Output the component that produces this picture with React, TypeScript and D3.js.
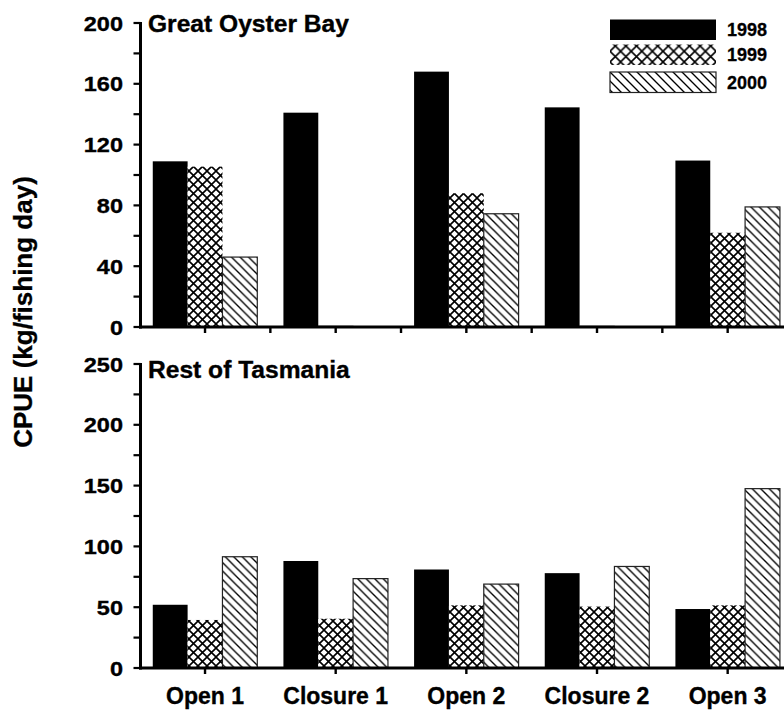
import React from "react";
import * as d3 from "d3";

const categories = ["Open 1", "Closure 1", "Open 2", "Closure 2", "Open 3"];
const years = ["1998", "1999", "2000"];

// Great Oyster Bay CPUE (kg/fishing day)
const gob1998 = [109, 141, 168, 144.5, 109.5];
const gob1999 = [105.5, 0.6, 88, 0.6, 62];
const gob2000 = [46, 0, 74.5, 0, 79];

// Rest of Tasmania CPUE (kg/fishing day)
const rot1998 = [52, 88, 81, 78, 48.5];
const rot1999 = [39.5, 40.5, 51.5, 50.5, 51.5];
const rot2000 = [91.5, 73.5, 69, 83.5, 147.5];

const topTicksMajor = [0, 40, 80, 120, 160, 200];
const topTicksMinor = [20, 60, 100, 140, 180];
const botTicksMajor = [0, 50, 100, 150, 200, 250];
const botTicksMinor = [25, 75, 125, 175, 225];

const W = 784;
const H = 711;
const FONT = "'Liberation Sans', Arial, Helvetica, sans-serif";
const fills = ["#000", "url(#crossPat)", "url(#hatchPat)"];
const legendFills = ["#000", "url(#crossPatL)", "url(#hatchPatL)"];

type PanelProps = {
  title: string;
  series: number[][];
  yMax: number;
  yTop: number;
  yBottom: number;
  major: number[];
  minor: number[];
  boundaryTicks: boolean;
  titleBaseline: number;
};

const x0 = d3.scaleBand<string>().domain(categories).range([139.7, 793]).padding(0);
const x1 = d3
  .scaleBand<string>()
  .domain(years)
  .range([0, x0.bandwidth()])
  .paddingInner(0)
  .paddingOuter(0.375);

function Panel(p: PanelProps) {
  const y = d3.scaleLinear().domain([0, p.yMax]).range([p.yBottom, p.yTop]);
  const axisX = 140.5;
  const xEnd = 794;
  const boundaries = categories.slice(1).map((c) => x0(c) as number);
  return (
    <g>
      {categories.map((c, ci) =>
        years.map((yr, si) => {
          const v = p.series[si][ci];
          if (v <= 0) return null;
          const bx = (x0(c) as number) + (x1(yr) as number);
          const by = y(v);
          return (
            <rect
              key={c + yr}
              x={bx}
              y={by}
              width={x1.bandwidth()}
              height={y(0) - by}
              fill={fills[si]}
              stroke={si === 2 ? "#222" : si === 1 && v < 2 ? "#666" : "none"}
              strokeWidth={si === 2 ? 1.2 : 0.8}
            />
          );
        })
      )}
      {/* y axis */}
      <line x1={axisX} x2={axisX} y1={p.yTop - 1} y2={p.yBottom + 1.5} stroke="#000" strokeWidth={3} />
      {p.major.concat(p.minor).map((t) => (
        <line key={"t" + t} x1={axisX - 7} x2={axisX} y1={y(t)} y2={y(t)} stroke="#000" strokeWidth={2.2} />
      ))}
      {p.major.map((t) => (
        <text
          key={"l" + t}
          transform={`translate(123,${y(t)}) scale(1.12,1)`}
          dy="0.36em"
          textAnchor="end"
          fontFamily={FONT}
          fontWeight="bold"
          fontSize={21}
          stroke="#000"
          strokeWidth={0.35}
        >
          {t}
        </text>
      ))}
      {/* x axis */}
      <line x1={axisX - 1.5} x2={xEnd} y1={p.yBottom} y2={p.yBottom} stroke="#000" strokeWidth={3} />
      {categories.map((c) => {
        const cx = (x0(c) as number) + x0.bandwidth() / 2;
        return <line key={"xt" + c} x1={cx} x2={cx} y1={p.yBottom} y2={p.yBottom + 6} stroke="#000" strokeWidth={2.4} />;
      })}
      {p.boundaryTicks &&
        boundaries.map((bx) => (
          <line key={"bt" + bx} x1={bx} x2={bx} y1={p.yBottom} y2={p.yBottom + 6} stroke="#000" strokeWidth={2.4} />
        ))}
      <text
        transform={`translate(148,${p.titleBaseline}) scale(1.07,1)`}
        fontFamily={FONT}
        fontWeight="bold"
        fontSize={23}
        stroke="#000"
        strokeWidth={0.35}
      >
        {p.title}
      </text>
    </g>
  );
}

export default function App() {
  const legendX = 610;
  const legendRows = [19.5, 44.5, 72];
  return (
    <svg
      width={W}
      height={H}
      viewBox={`0 0 ${W} ${H}`}
      style={{ position: "absolute", left: 0, top: 0, display: "block", background: "#fff" }}
    >
      <defs>
        <pattern id="crossPat" patternUnits="userSpaceOnUse" width={9} height={9}>
          <rect width={9} height={9} fill="#fff" />
          <path d="M0,0 L9,9 M9,0 L0,9" stroke="#000" strokeWidth={1.6} />
        </pattern>
        <pattern id="hatchPat" patternUnits="userSpaceOnUse" width={8.5} height={8.5}>
          <rect width={8.5} height={8.5} fill="#fff" />
          <path d="M0,0 L8.5,8.5 M-4.25,4.25 L4.25,12.75 M4.25,-4.25 L12.75,4.25" stroke="#000" strokeWidth={1.35} />
        </pattern>
        <pattern id="crossPatL" patternUnits="userSpaceOnUse" width={10.6} height={10.6} x={610} y={19.5}>
          <rect width={10.6} height={10.6} fill="#fff" />
          <path d="M0,0 L10.6,10.6 M10.6,0 L0,10.6" stroke="#000" strokeWidth={1.6} />
        </pattern>
        <pattern id="hatchPatL" patternUnits="userSpaceOnUse" width={9} height={9} x={610} y={72}>
          <rect width={9} height={9} fill="#fff" />
          <path d="M0,0 L9,9 M-4.5,4.5 L4.5,13.5 M4.5,-4.5 L13.5,4.5" stroke="#000" strokeWidth={1.35} />
        </pattern>
      </defs>
      <rect width={W} height={H} fill="#fff" />
      <Panel
        title="Great Oyster Bay"
        series={[gob1998, gob1999, gob2000]}
        yMax={200}
        yTop={23}
        yBottom={327}
        major={topTicksMajor}
        minor={topTicksMinor}
        boundaryTicks={true}
        titleBaseline={32}
      />
      <Panel
        title="Rest of Tasmania"
        series={[rot1998, rot1999, rot2000]}
        yMax={250}
        yTop={364}
        yBottom={668}
        major={botTicksMajor}
        minor={botTicksMinor}
        boundaryTicks={false}
        titleBaseline={378}
      />
      {categories.map((c) => (
        <text
          key={"xl" + c}
          x={(x0(c) as number) + x0.bandwidth() / 2}
          y={704}
          textAnchor="middle"
          fontFamily={FONT}
          fontWeight="bold"
          fontSize={23}
          stroke="#000"
          strokeWidth={0.35}
        >
          {c}
        </text>
      ))}
      <text
        transform={`translate(32,312) rotate(-90)`}
        textAnchor="middle"
        fontFamily={FONT}
        fontWeight="bold"
        fontSize={26}
        stroke="#000"
        strokeWidth={0.3}
      >
        CPUE (kg/fishing day)
      </text>
      {years.map((yr, i) => (
        <g key={"lg" + yr}>
          <rect
            x={legendX}
            y={legendRows[i]}
            width={106}
            height={20.5}
            fill={legendFills[i]}
            stroke={i === 2 ? "#222" : "none"}
            strokeWidth={1.2}
          />
          <text
            x={727}
            y={legendRows[i] + 10.5}
            dy="0.36em"
            fontFamily={FONT}
            fontWeight="bold"
            fontSize={18}
            stroke="#000"
            strokeWidth={0.3}
          >
            {yr}
          </text>
        </g>
      ))}
    </svg>
  );
}
